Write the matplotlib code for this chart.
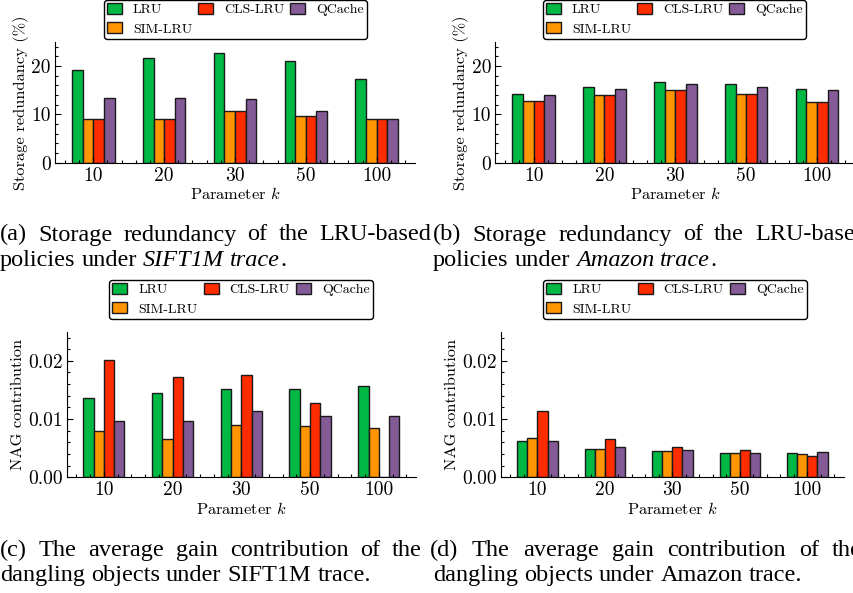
import matplotlib
matplotlib.use('Agg')
import matplotlib.pyplot as plt
from matplotlib.ticker import AutoMinorLocator, FormatStrFormatter, MultipleLocator
import numpy as np

W, H = 854, 593

k_labels = ['10', '20', '30', '50', '100']
policies = ['LRU', 'SIM-LRU', 'CLS-LRU', 'QCache']
colors = ['#00B945', '#FF9500', '#FF2C00', '#845B97']

# (a) storage redundancy, SIFT1M trace (%)
sift_red_lru = [19.1, 21.7, 22.8, 21.0, 17.3]
sift_red_sim = [9.07, 9.0, 10.7, 9.6, 9.15]
sift_red_cls = [9.07, 9.0, 10.7, 9.6, 9.15]
sift_red_qc = [13.3, 13.4, 13.1, 10.8, 9.15]

# (b) storage redundancy, Amazon trace (%)
amz_red_lru = [14.2, 15.7, 16.8, 16.2, 15.3]
amz_red_sim = [12.8, 14.1, 15.1, 14.2, 12.6]
amz_red_cls = [12.8, 14.1, 15.1, 14.2, 12.6]
amz_red_qc = [14.0, 15.2, 16.4, 15.75, 15.05]

# (c) NAG contribution, SIFT1M trace
sift_nag_lru = [0.0136, 0.0145, 0.0152, 0.0151, 0.0156]
sift_nag_sim = [0.0080, 0.00665, 0.0090, 0.00886, 0.00847]
sift_nag_cls = [0.0201, 0.0173, 0.0176, 0.0127, 0.0]
sift_nag_qc = [0.0097, 0.00966, 0.0113, 0.0105, 0.01045]

# (d) NAG contribution, Amazon trace
amz_nag_lru = [0.0063, 0.00494, 0.0046, 0.0042, 0.0042]
amz_nag_sim = [0.0067, 0.00494, 0.0046, 0.0042, 0.00392]
amz_nag_cls = [0.01136, 0.00659, 0.00528, 0.00472, 0.00358]
amz_nag_qc = [0.0062, 0.00523, 0.00466, 0.00415, 0.00426]

plt.rcParams['font.family'] = 'cmr10'
plt.rcParams['mathtext.fontset'] = 'cm'
plt.rcParams['axes.formatter.use_mathtext'] = True

TICK_FS = 14
LABEL_FS = 11.8
LEG_FS = 10
CAP_FS = 17.5
CAP_FONT = 'Liberation Serif'

fig = plt.figure(figsize=(W / 100, H / 100), dpi=100)


def px_axes(x0, x1, ytop, ybot):
    return fig.add_axes([x0 / W, 1 - ybot / H, (x1 - x0) / W, (ybot - ytop) / H])


def draw_panel(ax, series, ylabel, ylim, major, fmt, leg_cx, leg_top):
    x = np.arange(len(k_labels))
    width = 0.15
    for i, (vals, name, c) in enumerate(zip(series, policies, colors)):
        ax.bar(x + (i - 1.5) * width, vals, width, color=c, label=name,
               edgecolor='#1a1a1a', linewidth=1.0)
    ax.set_xlim(-0.54, 4.54)
    ax.set_ylim(*ylim)
    ax.set_xticks(x)
    ax.set_xticklabels(k_labels)
    ax.xaxis.set_minor_locator(MultipleLocator(0.2))
    ax.yaxis.set_major_locator(MultipleLocator(major))
    ax.yaxis.set_minor_locator(AutoMinorLocator(5))
    ax.yaxis.set_major_formatter(FormatStrFormatter(fmt))
    ax.spines['top'].set_visible(False)
    ax.spines['right'].set_visible(False)
    ax.tick_params(which='both', direction='in', labelsize=TICK_FS, width=0.8)
    ax.tick_params(which='major', length=4, pad=3)
    ax.tick_params(which='minor', length=2)
    ax.set_xlabel('Parameter $k$', fontsize=LABEL_FS, labelpad=1)
    ax.set_ylabel(ylabel, fontsize=LABEL_FS, labelpad=2)
    ax.legend(ncol=3, loc='upper center', bbox_to_anchor=(leg_cx / W, 1 - leg_top / H),
              bbox_transform=fig.transFigure, fontsize=LEG_FS, frameon=True,
              fancybox=True, edgecolor='black', framealpha=1, borderaxespad=0,
              handlelength=1.08, handleheight=0.86, handletextpad=0.8,
              columnspacing=0.43, labelspacing=0.42, borderpad=0.22)


ax_a = px_axes(55, 415, 42, 162.7)
draw_panel(ax_a, [sift_red_lru, sift_red_sim, sift_red_cls, sift_red_qc],
           'Storage redundancy (%)', (0, 25), 10, '%d', 235.5, 0)
ax_b = px_axes(495.3, 855.3, 42, 162.7)
draw_panel(ax_b, [amz_red_lru, amz_red_sim, amz_red_cls, amz_red_qc],
           'Storage redundancy (%)', (0, 25), 10, '%d', 674.5, 0)
ax_c = px_axes(66.7, 416, 331.7, 477.3)
draw_panel(ax_c, [sift_nag_lru, sift_nag_sim, sift_nag_cls, sift_nag_qc],
           'NAG contribution', (0, 0.025), 0.01, '%.2f', 241, 280)
ax_d = px_axes(501, 843.7, 331.7, 477.3)
draw_panel(ax_d, [amz_nag_lru, amz_nag_sim, amz_nag_cls, amz_nag_qc],
           'NAG contribution', (0, 0.025), 0.01, '%.2f', 675, 280)

renderer = fig.canvas.get_renderer()


def word_width(word, style):
    t = fig.text(0, 0, word, fontsize=CAP_FS, family=CAP_FONT, style=style)
    w = t.get_window_extent(renderer).width
    t.remove()
    return w


def justified(text, x0, x1, ybase):
    words = text.split()
    widths = [word_width(w, 'normal') for w in words]
    gap = (x1 - x0 - sum(widths)) / (len(words) - 1)
    x = x0
    for w, wd in zip(words, widths):
        fig.text(x / W, 1 - ybase / H, w, fontsize=CAP_FS, family=CAP_FONT,
                 va='baseline', ha='left')
        x += wd + gap


def ragged(parts, x0, ybase):
    # parts: list of (text, style); words keep their natural spacing
    space = CAP_FS * 100 / 72 * 0.25
    x = x0
    for text, style in parts:
        for w in text.split():
            if w == '.':
                x -= space
            fig.text(x / W, 1 - ybase / H, w, fontsize=CAP_FS, family=CAP_FONT,
                     style=style, va='baseline', ha='left')
            x += word_width(w, style) + space


justified('(a) Storage redundancy of the LRU-based', 0, 431, 240.5)
ragged([('policies under', 'normal'), ('SIFT1M trace', 'italic'), ('.', 'normal')], 0, 266)
justified('(b) Storage redundancy of the LRU-based', 433, 867, 240.5)
ragged([('policies under', 'normal'), ('Amazon trace', 'italic'), ('.', 'normal')], 433, 266)
justified('(c) The average gain contribution of the', 0, 422, 556)
ragged([('dangling objects under SIFT1M trace.', 'normal')], 0, 581)
justified('(d) The average gain contribution of the', 430, 862, 556)
ragged([('dangling objects under Amazon trace.', 'normal')], 433, 581)

fig.savefig('out.png', dpi=100)
